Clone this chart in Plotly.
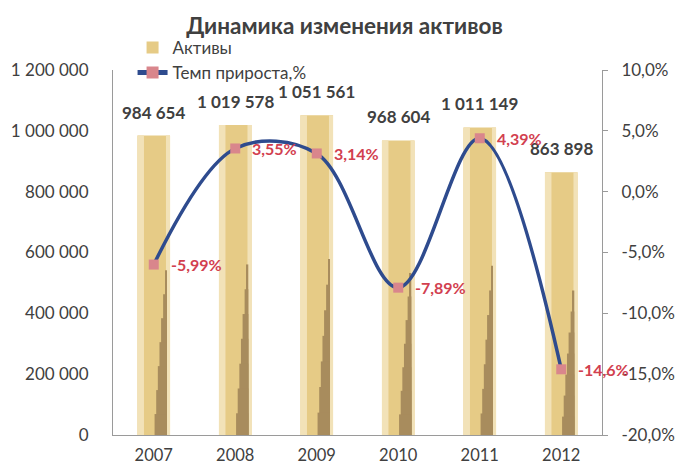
import plotly.graph_objects as go

years = ["2007", "2008", "2009", "2010", "2011", "2012"]
assets = [984654, 1019578, 1051561, 968604, 1011149, 863898]
growth = [-5.99, 3.55, 3.14, -7.89, 4.39, -14.6]
growth_labels = ["-5,99%", "3,55%", "3,14%", "-7,89%", "4,39%", "-14,6%"]
asset_labels = ["984 654", "1 019 578", "1 051 561", "968 604", "1 011 149", "863 898"]
pct_tickvals = [-20, -15, -10, -5, 0, 5, 10]
pct_ticktext = ["-20,0%", "-15,0%", "-10,0%", "-5,0%", "0,0%", "5,0%", "10,0%"]

FONT = "Lato"
GRAY = "#404040"

fig = go.Figure()

# main gold bars (cylinders)
fig.add_trace(go.Bar(
    x=years, y=assets, name="Активы",
    width=0.4, offset=-0.2,
    marker=dict(color="#E6CB86", line=dict(width=0)),
    hoverinfo="y",
))
# light highlights at the edges of each cylinder
for off, w in [(-0.2, 0.08), (0.15, 0.05)]:
    fig.add_trace(go.Bar(
        x=years, y=assets, showlegend=False,
        width=w, offset=off,
        marker=dict(color="#F2E2B8", line=dict(width=0)),
        hoverinfo="skip",
    ))
# dark wedge (staircase approximation) in the lower part
for frac, w in [(0.55, 0.02), (0.47, 0.045), (0.39, 0.07), (0.31, 0.09),
                (0.23, 0.11), (0.15, 0.13), (0.07, 0.15)]:
    fig.add_trace(go.Bar(
        x=years, y=[v * frac for v in assets], showlegend=False,
        width=w, offset=0.16 - w,
        marker=dict(color="#A88C5D", line=dict(width=0)),
        hoverinfo="skip",
    ))

fig.add_trace(go.Scatter(
    x=years, y=growth, name="Темп прироста,%", yaxis="y2",
    mode="lines+markers",
    line=dict(color="#2E4B8E", width=3.5, shape="spline", smoothing=1.0),
    marker=dict(symbol="square", size=10, color="#D9868C"),
    cliponaxis=False,
))

for i, (v, lab) in enumerate(zip(assets, asset_labels)):
    fig.add_annotation(
        x=i, y=v, xref="x", yref="y", text=lab, showarrow=False,
        yanchor="bottom", yshift=11,
        font=dict(family=FONT, size=17, color=GRAY, weight="bold"),
    )

for i, (g, lab) in enumerate(zip(growth, growth_labels)):
    fig.add_annotation(
        x=i, y=g, xref="x", yref="y2", text=lab, showarrow=False,
        xanchor="left", yanchor="middle", xshift=15,
        font=dict(family=FONT, size=16, color="#D2404F", weight="bold"),
    )

fig.update_layout(
    width=678, height=467,
    margin=dict(l=113, r=76, t=70, b=32),
    paper_bgcolor="white", plot_bgcolor="white",
    separators=", ",
    barmode="overlay",
    title=dict(text="<b>Динамика изменения активов</b>", x=0.508, xanchor="center",
               y=0.944, yanchor="middle",
               font=dict(family=FONT, size=22.5, color=GRAY)),
    font=dict(family=FONT, size=17, color=GRAY),
    legend=dict(x=0.04, y=1.11, xanchor="left", yanchor="top",
                bgcolor="rgba(0,0,0,0)", tracegroupgap=0,
                font=dict(family=FONT, size=17, color=GRAY),
                itemsizing="constant"),
    xaxis=dict(type="category", range=[-0.5, 5.5], autorange=False,
               automargin=False,
               showline=True, linecolor="#9A9A9A", linewidth=1,
               ticks="", showgrid=False, ticklabelstandoff=5,
               tickfont=dict(family=FONT, size=16.5, color=GRAY)),
    yaxis=dict(range=[0, 1200000], dtick=200000, tickformat=",d",
               automargin=False,
               showline=True, linecolor="#9A9A9A", linewidth=1,
               ticks="", showgrid=False, zeroline=False, ticklabelstandoff=20,
               tickfont=dict(family=FONT, size=17, color=GRAY)),
    yaxis2=dict(range=[-20, 10], tickmode="array", tickvals=pct_tickvals,
                ticktext=pct_ticktext,
                overlaying="y", side="right", automargin=False,
                showline=True, linecolor="#9A9A9A", linewidth=1,
                ticks="outside", ticklen=5, tickcolor="#9A9A9A",
                showgrid=False, zeroline=False, ticklabelstandoff=10,
                tickfont=dict(family=FONT, size=17, color=GRAY)),
)

fig.write_html("out.html")
